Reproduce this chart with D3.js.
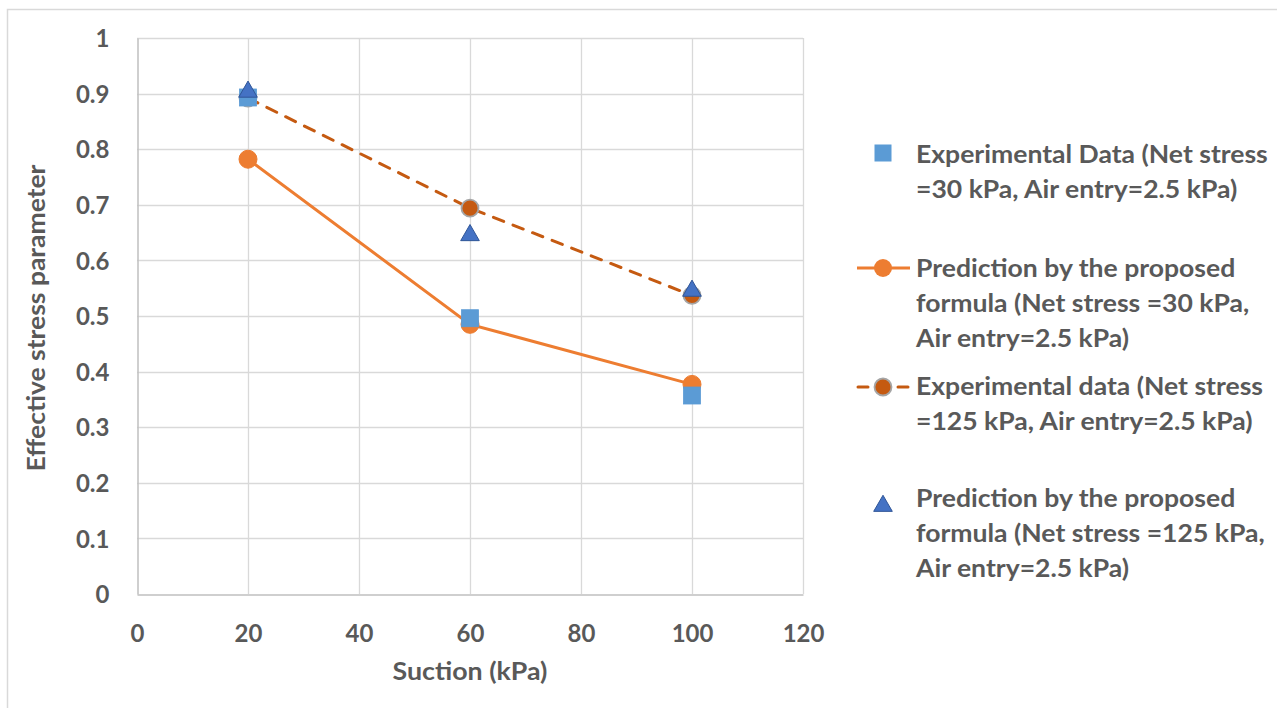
<!DOCTYPE html>
<html><head><meta charset="utf-8">
<script src="https://cdn.jsdelivr.net/npm/d3@7"></script>
<style>
html,body{margin:0;padding:0;background:#fff;}
text{font-family:Lato,"Open Sans",sans-serif;font-weight:700;fill:#595959;}
</style></head>
<body>
<svg id="chart" width="1277" height="708"></svg>
<script>
// ---- data ----
const suction = [20, 60, 100];
const expData30 = [0.893, 0.496, 0.357];
const pred30 = [0.782, 0.485, 0.377];
const expData125 = [0.892, 0.694, 0.537];
const pred125 = [0.905, 0.647, 0.547];
const xTicks = [0, 20, 40, 60, 80, 100, 120];
const yTicks = [0, 0.1, 0.2, 0.3, 0.4, 0.5, 0.6, 0.7, 0.8, 0.9, 1];
const xTitle = "Suction (kPa)";
const yTitle = "Effective stress parameter";
const legendItems = [
  ["Experimental Data (Net stress", "=30 kPa, Air entry=2.5 kPa)"],
  ["Prediction by the proposed", "formula (Net stress =30 kPa,", "Air entry=2.5 kPa)"],
  ["Experimental data (Net stress", "=125 kPa, Air entry=2.5 kPa)"],
  ["Prediction by the proposed", "formula (Net stress =125 kPa,", "Air entry=2.5 kPa)"]
];

const C = {sq:"#5B9BD5", or:"#ED7D31", dor:"#C55A11", tri:"#4472C4", triS:"#2F5597", grid:"#D9D9D9"};

const svg = d3.select("#chart");
svg.append("rect").attr("x",7.5).attr("y",9.5).attr("width",1275).attr("height",710)
  .attr("fill","#fff").attr("stroke","#D9D9D9").attr("stroke-width",1.5);

const x = d3.scaleLinear().domain([0,120]).range([137,803]);
const y = d3.scaleLinear().domain([0,1]).range([594,38]);

// gridlines
const g = svg.append("g");
g.selectAll(".hg").data(yTicks.filter(d=>d>0)).join("line")
  .attr("x1",x(0)).attr("x2",x(120)).attr("y1",d=>Math.round(y(d))+0.5).attr("y2",d=>Math.round(y(d))+0.5)
  .attr("stroke",C.grid).attr("stroke-width",1.3);
g.selectAll(".vg").data(xTicks.filter(d=>d>0)).join("line")
  .attr("y1",y(0)).attr("y2",y(1)).attr("x1",d=>Math.round(x(d))+0.5).attr("x2",d=>Math.round(x(d))+0.5)
  .attr("stroke",C.grid).attr("stroke-width",1.3);

// axes via d3
const xAxis = svg.append("g").attr("transform",`translate(0,${Math.round(y(0))+0.5})`)
  .call(d3.axisBottom(x).tickValues(xTicks).tickSize(0).tickPadding(30).tickFormat(d3.format("d")));
const yAxis = svg.append("g").attr("transform",`translate(${Math.round(x(0))+0.5},0)`)
  .call(d3.axisLeft(y).tickValues(yTicks).tickSize(0).tickPadding(28).tickFormat(d=>d3.format("")(+d.toFixed(1))));
[xAxis,yAxis].forEach(a=>{
  a.select(".domain").attr("stroke","#BFBFBF").attr("stroke-width",1.5);
  a.selectAll("text").attr("font-size",24).attr("font-family","Lato").attr("font-weight",700).attr("fill","#595959");
});
xAxis.selectAll("text").attr("dy","0.35em").attr("y",39);
yAxis.selectAll("text").attr("dy","0.36em");

// titles
function fitText(sel, target){
  const w = sel.node().getComputedTextLength();
  return target / w;
}
const xt = svg.append("text").attr("text-anchor","middle").attr("font-size",24).text(xTitle);
const sxT = fitText(xt,155);
xt.attr("transform",`translate(470,680) scale(${sxT},1)`);
const yt = svg.append("text").attr("text-anchor","middle").attr("font-size",24).text(yTitle);
const syT = fitText(yt,307);
yt.attr("transform",`translate(45,318) rotate(-90) scale(${syT},1)`);

// series lines
const line = d3.line().x(d=>x(d[0])).y(d=>y(d[1]));
svg.append("path").datum(d3.zip(suction,pred30)).attr("d",line)
  .attr("fill","none").attr("stroke",C.or).attr("stroke-width",3);
svg.append("path").datum(d3.zip(suction,expData125)).attr("d",line)
  .attr("fill","none").attr("stroke",C.dor).attr("stroke-width",3)
  .attr("stroke-dasharray","11,10").attr("stroke-linecap","round");

// markers
svg.selectAll(".c1").data(d3.zip(suction,pred30)).join("circle")
  .attr("cx",d=>x(d[0])).attr("cy",d=>y(d[1])).attr("r",9).attr("fill",C.or).attr("stroke",C.or).attr("stroke-width",1);
svg.selectAll(".c2").data(d3.zip(suction,expData125)).join("circle")
  .attr("cx",d=>x(d[0])).attr("cy",d=>y(d[1])).attr("r",8.5).attr("fill",C.dor).attr("stroke","#A5A5A5").attr("stroke-width",1.8);
const sqS = 17;
svg.selectAll(".sq").data(d3.zip(suction,expData30)).join("rect")
  .attr("x",d=>x(d[0])-sqS/2).attr("y",d=>y(d[1])-sqS/2).attr("width",sqS).attr("height",sqS)
  .attr("fill",C.sq).attr("stroke",C.sq).attr("stroke-width",0.8);
const tri = d3.symbol().type(d3.symbolTriangle).size(150);
svg.selectAll(".tr").data(d3.zip(suction,pred125)).join("path")
  .attr("d",tri).attr("transform",d=>`translate(${x(d[0])},${y(d[1])+1})`)
  .attr("fill",C.tri).attr("stroke",C.triS).attr("stroke-width",1);

// legend
const lg = svg.append("g");
const baselines = [[163,198],[277,312,347],[395,430],[507,542,577]];
const markerY = [153,268,387,505];
const mx = 883;
const texts = [];
legendItems.forEach((lines,i)=>{
  lines.forEach((t,j)=>{
    const tt = lg.append("text").attr("font-size",24).text(t).attr("data-b",baselines[i][j]);
    texts.push(tt);
  });
});
const sxL = 352 / texts[0].node().getComputedTextLength();
texts.forEach(tt=>tt.attr("transform",`translate(916,${tt.attr("data-b")}) scale(${sxL},1)`));

// legend markers
lg.append("rect").attr("x",mx-8.5).attr("y",markerY[0]-8.5).attr("width",17).attr("height",17).attr("fill",C.sq);
lg.append("line").attr("x1",857).attr("x2",910).attr("y1",markerY[1]).attr("y2",markerY[1]).attr("stroke",C.or).attr("stroke-width",3);
lg.append("circle").attr("cx",mx).attr("cy",markerY[1]).attr("r",9).attr("fill",C.or);
lg.append("line").attr("x1",858).attr("x2",868).attr("y1",markerY[2]).attr("y2",markerY[2]).attr("stroke",C.dor).attr("stroke-width",3).attr("stroke-linecap","round");
lg.append("line").attr("x1",898).attr("x2",908).attr("y1",markerY[2]).attr("y2",markerY[2]).attr("stroke",C.dor).attr("stroke-width",3).attr("stroke-linecap","round");
lg.append("circle").attr("cx",mx).attr("cy",markerY[2]).attr("r",8.5).attr("fill",C.dor).attr("stroke","#A5A5A5").attr("stroke-width",1.8);
lg.append("path").attr("d",tri).attr("transform",`translate(${mx},${markerY[3]+1})`).attr("fill",C.tri).attr("stroke",C.triS).attr("stroke-width",1);
</script>
</body></html>
